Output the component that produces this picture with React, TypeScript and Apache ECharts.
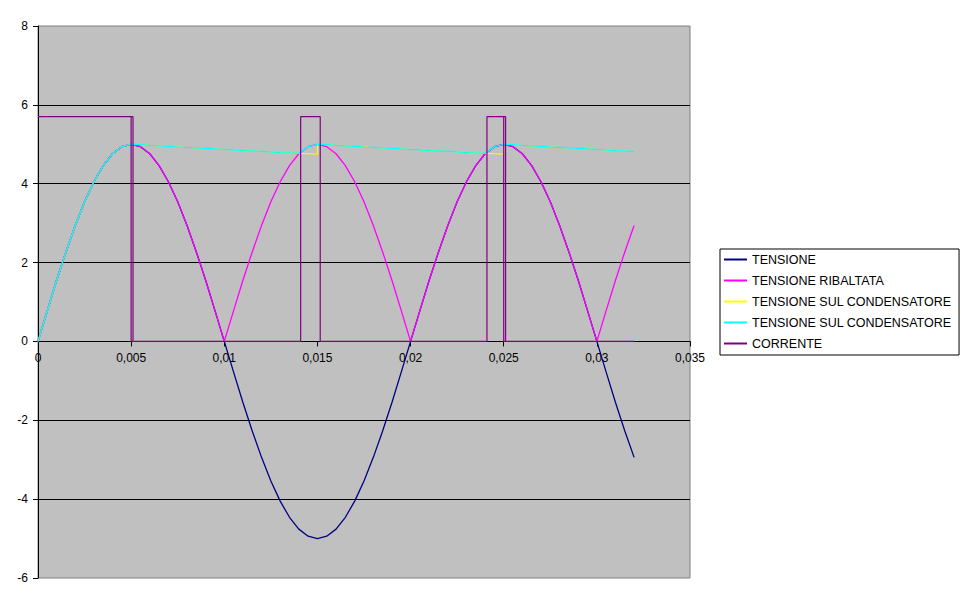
import * as echarts from "echarts";
import { useEffect, useRef } from "react";

// tempi di campionamento (s)
const tempi = [
  0, 0.0005, 0.001, 0.0015, 0.002, 0.0025, 0.003, 0.0035, 0.004, 0.0045,
  0.005, 0.0055, 0.006, 0.0065, 0.007, 0.0075, 0.008, 0.0085, 0.009, 0.0095,
  0.01, 0.0105, 0.011, 0.0115, 0.012, 0.0125, 0.013, 0.0135, 0.014, 0.0145,
  0.015, 0.0155, 0.016, 0.0165, 0.017, 0.0175, 0.018, 0.0185, 0.019, 0.0195,
  0.02, 0.0205, 0.021, 0.0215, 0.022, 0.0225, 0.023, 0.0235, 0.024, 0.0245,
  0.025, 0.0255, 0.026, 0.0265, 0.027, 0.0275, 0.028, 0.0285, 0.029, 0.0295,
  0.03, 0.0305, 0.031, 0.0315, 0.032,
];

const tensione = [
  0, 0.78, 1.55, 2.27, 2.94, 3.54, 4.05, 4.46, 4.76, 4.94,
  5, 4.94, 4.76, 4.46, 4.05, 3.54, 2.94, 2.27, 1.55, 0.78,
  0, -0.78, -1.55, -2.27, -2.94, -3.54, -4.05, -4.46, -4.76, -4.94,
  -5, -4.94, -4.76, -4.46, -4.05, -3.54, -2.94, -2.27, -1.55, -0.78,
  0, 0.78, 1.55, 2.27, 2.94, 3.54, 4.05, 4.46, 4.76, 4.94,
  5, 4.94, 4.76, 4.46, 4.05, 3.54, 2.94, 2.27, 1.55, 0.78,
  0, -0.78, -1.55, -2.27, -2.94,
];

const ribaltata = [
  0, 0.78, 1.55, 2.27, 2.94, 3.54, 4.05, 4.46, 4.76, 4.94,
  5, 4.94, 4.76, 4.46, 4.05, 3.54, 2.94, 2.27, 1.55, 0.78,
  0, 0.78, 1.55, 2.27, 2.94, 3.54, 4.05, 4.46, 4.76, 4.94,
  5, 4.94, 4.76, 4.46, 4.05, 3.54, 2.94, 2.27, 1.55, 0.78,
  0, 0.78, 1.55, 2.27, 2.94, 3.54, 4.05, 4.46, 4.76, 4.94,
  5, 4.94, 4.76, 4.46, 4.05, 3.54, 2.94, 2.27, 1.55, 0.78,
  0, 0.78, 1.55, 2.27, 2.94,
];

// condensatore (giallo): resta basso fino al picco, poi salta
const condensatore1 = [
  0, 0.78, 1.55, 2.27, 2.94, 3.54, 4.05, 4.46, 4.76, 4.94,
  5, 4.99, 4.97, 4.96, 4.95, 4.93, 4.92, 4.91, 4.9, 4.88,
  4.87, 4.86, 4.84, 4.83, 4.82, 4.81, 4.79, 4.78, 4.77, 4.76,
  4.75, 4.99, 4.97, 4.96, 4.95, 4.93, 4.92, 4.91, 4.9, 4.88,
  4.87, 4.86, 4.84, 4.83, 4.82, 4.81, 4.79, 4.78, 4.77, 4.76,
  4.75, 4.99, 4.97, 4.96, 4.95, 4.93, 4.92, 4.91, 4.9, 4.88,
  4.87, 4.86, 4.84, 4.83, 4.82,
];
const saltiT = [0.015, 0.025];
const saltiV = [5, 5];

// condensatore (ciano)
const condensatore2 = [
  0, 0.78, 1.55, 2.27, 2.94, 3.54, 4.05, 4.46, 4.76, 4.94,
  5, 4.99, 4.97, 4.96, 4.95, 4.93, 4.92, 4.91, 4.9, 4.88,
  4.87, 4.86, 4.84, 4.83, 4.82, 4.81, 4.79, 4.78, 4.77, 4.94,
  5, 4.99, 4.97, 4.96, 4.95, 4.93, 4.92, 4.91, 4.9, 4.88,
  4.87, 4.86, 4.84, 4.83, 4.82, 4.81, 4.79, 4.78, 4.77, 4.94,
  5, 4.99, 4.97, 4.96, 4.95, 4.93, 4.92, 4.91, 4.9, 4.88,
  4.87, 4.86, 4.84, 4.83, 4.82,
];

const correnteT = [
  0, 0.0051, 0.0051, 0.005, 0.005, 0.0051, 0.0051, 0.0141, 0.0141, 0.01515,
  0.01515, 0.0241, 0.0241, 0.0251, 0.0251, 0.025, 0.025, 0.0251, 0.0251, 0.032,
];
const correnteI = [
  5.7, 5.7, 0, 0, 5.7, 5.7, 0, 0, 5.7, 5.7,
  0, 0, 5.7, 5.7, 0, 0, 5.7, 5.7, 0, 0,
];

const nomi = [
  "TENSIONE",
  "TENSIONE RIBALTATA",
  "TENSIONE SUL CONDENSATORE",
  "TENSIONE SUL CONDENSATORE ",
  "CORRENTE",
];
const colori = ["#000080", "#FF00FF", "#FFFF00", "#00FFFF", "#800080"];
const spessori = [1.3, 1.3, 1, 1.3, 1.2];

const FONT = "'Liberation Sans', Arial, sans-serif";

const coppie = (t: number[], v: number[]) => t.map((x, i) => [x, v[i]]);

const conSalti = () => {
  const out: number[][] = [];
  tempi.forEach((t, i) => {
    out.push([t, condensatore1[i]]);
    const j = saltiT.indexOf(t);
    if (j >= 0) out.push([t, saltiV[j]]);
  });
  return out;
};

const App = () => {
  const chartRef = useRef<HTMLDivElement>(null);

  useEffect(() => {
    const chart = echarts.init(chartRef.current, null, { renderer: "svg" });
    const dati = [
      coppie(tempi, tensione),
      coppie(tempi, ribaltata),
      conSalti(),
      coppie(tempi, condensatore2),
      coppie(correnteT, correnteI),
    ];
    // asse x sulla linea dello zero: 6 unità su 14 sopra il bordo inferiore
    const altezza = 552;
    const offsetZero = -(altezza * 6) / 14;
    chart.setOption({
      animation: false,
      grid: {
        left: 38,
        top: 26,
        width: 652,
        height: altezza,
        show: true,
        backgroundColor: "#C0C0C0",
        borderColor: "#808080",
        borderWidth: 1,
      },
      legend: {
        orient: "vertical",
        left: 720,
        top: 249,
        data: nomi,
        icon: "rect",
        itemWidth: 23,
        itemHeight: 2,
        itemGap: 8,
        padding: [4, 4, 5, 4],
        borderColor: "#000",
        borderWidth: 1,
        textStyle: { fontFamily: FONT, fontSize: 12.5, color: "#000", lineHeight: 13 },
      },
      xAxis: {
        type: "value",
        min: 0,
        max: 0.035,
        interval: 0.005,
        offset: offsetZero,
        axisLine: { onZero: false, lineStyle: { color: "#000", width: 1 } },
        axisTick: { show: true, length: 5, lineStyle: { color: "#000" } },
        splitLine: { show: false },
        axisLabel: {
          margin: 11,
          fontFamily: FONT,
          fontSize: 12,
          color: "#000",
          showMaxLabel: true,
          formatter: (v: number) => String(+v.toFixed(4)).replace(".", ","),
        },
      },
      yAxis: {
        type: "value",
        min: -6,
        max: 8,
        interval: 2,
        axisLine: { show: true, lineStyle: { color: "#000", width: 1 } },
        axisTick: { show: true, length: 5, lineStyle: { color: "#000" } },
        splitLine: {
          show: true,
          showMinLine: false,
          showMaxLine: false,
          lineStyle: { color: "#000", width: 1 },
        },
        axisLabel: { margin: 10, fontFamily: FONT, fontSize: 12, color: "#000" },
      },
      series: nomi.map((nome, i) => ({
        name: nome,
        type: "line",
        data: dati[i],
        showSymbol: false,
        symbol: "none",
        color: colori[i],
        lineStyle: { color: colori[i], width: spessori[i] },
        z: 2 + i,
      })),
    });
    return () => {
      chart.dispose();
    };
  }, []);

  return (
    <div
      ref={chartRef}
      style={{ position: "absolute", left: 0, top: 0, width: 970, height: 604 }}
    />
  );
};

export default App;
